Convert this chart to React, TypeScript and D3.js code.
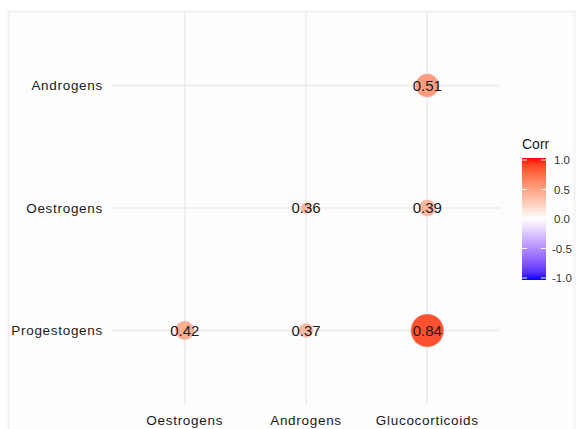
import * as d3 from 'd3';
import { useEffect, useRef } from 'react';

const xCats = ['Oestrogens', 'Androgens', 'Glucocorticoids'];
const yCats = ['Progestogens', 'Oestrogens', 'Androgens'];

const cellX = ['Glucocorticoids', 'Androgens', 'Glucocorticoids', 'Oestrogens', 'Androgens', 'Glucocorticoids'];
const cellY = ['Androgens', 'Oestrogens', 'Oestrogens', 'Progestogens', 'Progestogens', 'Progestogens'];
const corrValues = [0.51, 0.36, 0.39, 0.42, 0.37, 0.84];

const legendTicks = [1.0, 0.5, 0.0, -0.5, -1.0];

const W = 577;
const H = 429;

export default function App() {
  const ref = useRef<SVGSVGElement>(null);

  useEffect(() => {
    const svg = d3.select(ref.current);
    svg.selectAll('*').remove();

    // outer plot frame
    svg.append('rect')
      .attr('x', 8.5).attr('y', 11.5)
      .attr('width', 566).attr('height', 430)
      .attr('fill', '#fdfdfd')
      .attr('stroke', '#f2f2f2')
      .attr('stroke-width', 2);

    const panel = { left: 112, right: 500, top: 12, bottom: 404 };

    // discrete scales with ggplot-like 0.6 expansion
    const x = d3.scalePoint<string>()
      .domain(xCats)
      .range([panel.left, panel.right])
      .padding(0.6);
    const y = d3.scalePoint<string>()
      .domain(yCats)
      .range([panel.bottom, panel.top])
      .padding(0.6);

    const color = d3.scaleLinear<string>()
      .domain([-1, 0, 1])
      .range(['blue', 'white', 'red'])
      .interpolate(d3.interpolateLab);

    const ext = d3.extent(corrValues.map(Math.abs)) as [number, number];
    const sz = d3.scaleLinear().domain(ext).range([0, 1]);
    const radius = (v: number) => 5.5 + Math.sqrt(sz(Math.abs(v))) * 11;

    const grid = svg.append('g').attr('stroke', '#ebebeb').attr('stroke-width', 1.6);
    xCats.forEach(c => {
      grid.append('line')
        .attr('x1', x(c)!).attr('x2', x(c)!)
        .attr('y1', panel.top).attr('y2', panel.bottom);
    });
    yCats.forEach(c => {
      grid.append('line')
        .attr('x1', panel.left).attr('x2', panel.right)
        .attr('y1', y(c)!).attr('y2', y(c)!);
    });

    const font = 'Liberation Sans, Arial, sans-serif';

    // axis labels
    svg.append('g').selectAll('text')
      .data(yCats).enter().append('text')
      .attr('x', 103).attr('y', d => y(d)!)
      .attr('dy', '0.35em')
      .attr('text-anchor', 'end')
      .attr('font-family', font).attr('font-size', 13.5)
      .attr('letter-spacing', 0.7)
      .attr('fill', '#1a1a1a')
      .text(d => d);

    svg.append('g').selectAll('text')
      .data(xCats).enter().append('text')
      .attr('x', d => x(d)!).attr('y', 420)
      .attr('dy', '0.35em')
      .attr('text-anchor', 'middle')
      .attr('font-family', font).attr('font-size', 13.5)
      .attr('letter-spacing', 0.7)
      .attr('fill', '#1a1a1a')
      .text(d => d);

    const cells = corrValues.map((v, i) => ({ x: cellX[i], y: cellY[i], v }));

    svg.append('g').selectAll('circle')
      .data(cells).enter().append('circle')
      .attr('cx', d => x(d.x)!).attr('cy', d => y(d.y)!)
      .attr('r', d => radius(d.v))
      .attr('fill', d => color(d.v))
      .attr('stroke', '#e0d0cc')
      .attr('stroke-width', 0.5);

    svg.append('g').selectAll('text')
      .data(cells).enter().append('text')
      .attr('x', d => x(d.x)!).attr('y', d => y(d.y)!)
      .attr('dy', '0.36em')
      .attr('text-anchor', 'middle')
      .attr('font-family', font).attr('font-size', 15)
      .attr('fill', '#1a1a1a')
      .text(d => d.v.toFixed(2));

    // legend
    const lg = svg.append('g');
    lg.append('text')
      .attr('x', 522).attr('y', 149)
      .attr('font-family', font).attr('font-size', 14)
      .attr('fill', '#1a1a1a')
      .text('Corr');

    const barTop = 158, barBottom = 280, barLeft = 522, barW = 24;
    const ly = d3.scaleLinear().domain([-1, 1]).range([barBottom - 2, barTop + 2]);

    const defs = svg.append('defs');
    const grad = defs.append('linearGradient')
      .attr('id', 'corrgrad')
      .attr('x1', 0).attr('x2', 0).attr('y1', 1).attr('y2', 0);
    d3.range(0, 21).forEach(i => {
      const t = i / 20;
      grad.append('stop')
        .attr('offset', t)
        .attr('stop-color', color(-1 + 2 * t));
    });
    lg.append('rect')
      .attr('x', barLeft).attr('y', barTop)
      .attr('width', barW).attr('height', barBottom - barTop)
      .attr('fill', 'url(#corrgrad)');

    legendTicks.forEach(t => {
      const yy = ly(t);
      lg.append('line')
        .attr('x1', barLeft).attr('x2', barLeft + 5)
        .attr('y1', yy).attr('y2', yy)
        .attr('stroke', 'white').attr('stroke-width', 1);
      lg.append('line')
        .attr('x1', barLeft + barW - 5).attr('x2', barLeft + barW)
        .attr('y1', yy).attr('y2', yy)
        .attr('stroke', 'white').attr('stroke-width', 1);
    });

    lg.selectAll('text.tick')
      .data(legendTicks).enter().append('text')
      .attr('class', 'tick')
      .attr('x', d => (d < 0 ? 552 : 554)).attr('y', d => ly(d))
      .attr('dy', '0.35em')
      .attr('font-family', font).attr('font-size', 11.5)
      .attr('fill', '#333333')
      .text(d => d.toFixed(1));

    return () => {
      svg.selectAll('*').remove();
    };
  }, []);

  return (
    <svg
      ref={ref}
      width={W}
      height={H}
      style={{ position: 'absolute', left: 0, top: 0, background: 'white' }}
    />
  );
}
